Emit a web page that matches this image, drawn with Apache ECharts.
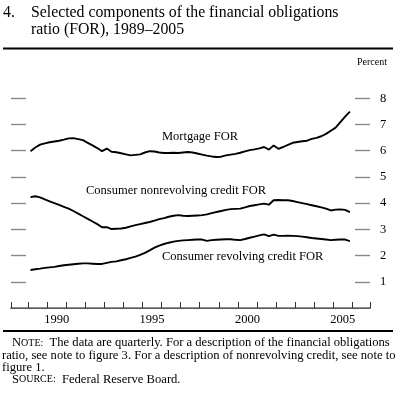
<!DOCTYPE html>
<html><head><meta charset="utf-8">
<script src="https://cdn.jsdelivr.net/npm/echarts@6/dist/echarts.min.js"></script>
<style>html,body{margin:0;padding:0;background:#fff}#c{width:400px;height:395px}</style>
</head><body><div id="c"></div><script>
// Quarterly data, 1989Q1 - 2005Q4 (percent)
const startYear = 1989;
const mortgage = [
  5.98, 6.12, 6.23, 6.28,
  6.32, 6.35, 6.38, 6.42,
  6.47, 6.48, 6.44, 6.40,
  6.30, 6.20, 6.10, 5.98,
  6.08, 5.96, 5.94, 5.90,
  5.86, 5.82, 5.84, 5.86,
  5.93, 5.98, 5.97, 5.93,
  5.91, 5.91, 5.92, 5.91,
  5.93, 5.95, 5.93, 5.89,
  5.85, 5.81, 5.78, 5.76,
  5.77, 5.82, 5.85, 5.88,
  5.92, 5.97, 6.02, 6.05,
  6.09, 6.14, 6.04, 6.20,
  6.07, 6.14, 6.22, 6.30,
  6.33, 6.36, 6.38, 6.45,
  6.49, 6.55, 6.64, 6.76,
  6.88, 7.09, 7.30, 7.49
];
const nonrevolving = [
  4.23, 4.26, 4.22, 4.14,
  4.07, 4.00, 3.93, 3.86,
  3.79, 3.70, 3.60, 3.50,
  3.40, 3.30, 3.20, 3.08,
  3.08, 3.01, 3.02, 3.03,
  3.06, 3.11, 3.16, 3.20,
  3.24, 3.28, 3.33, 3.39,
  3.43, 3.48, 3.52, 3.54,
  3.52, 3.51, 3.52, 3.53,
  3.54, 3.57, 3.62, 3.66,
  3.70, 3.74, 3.77, 3.78,
  3.79, 3.84, 3.89, 3.92,
  3.95, 3.98, 3.94, 4.11,
  4.12, 4.11, 4.11, 4.08,
  4.04, 4.00, 3.96, 3.92,
  3.88, 3.84, 3.79, 3.72,
  3.75, 3.76, 3.74, 3.66
];
const revolving = [
  1.45, 1.48, 1.50, 1.53,
  1.55, 1.57, 1.60, 1.63,
  1.65, 1.67, 1.69, 1.70,
  1.70, 1.69, 1.68, 1.68,
  1.72, 1.76, 1.78, 1.82,
  1.86, 1.91, 1.96, 2.03,
  2.10, 2.20, 2.30, 2.38,
  2.44, 2.49, 2.53, 2.56,
  2.58, 2.59, 2.60, 2.61,
  2.61, 2.56, 2.59, 2.60,
  2.61, 2.62, 2.62, 2.60,
  2.59, 2.63, 2.68, 2.72,
  2.77, 2.81, 2.74, 2.80,
  2.75, 2.75, 2.76, 2.75,
  2.74, 2.72, 2.70, 2.67,
  2.65, 2.63, 2.61, 2.59,
  2.60, 2.61, 2.61, 2.55
];
const yTicks = [1, 2, 3, 4, 5, 6, 7, 8];
const yearTicks = [1989,1990,1991,1992,1993,1994,1995,1996,1997,1998,1999,2000,2001,2002,2003,2004,2005,2006];
const yearLabels = [1990, 1995, 2000, 2005];
const seriesNames = ['Mortgage FOR', 'Consumer nonrevolving credit FOR', 'Consumer revolving credit FOR'];
const titleLines = ['Selected components of the financial obligations', 'ratio (FOR), 1989\u20132005'];

const FONT = '"Liberation Serif","Times New Roman",serif';
const X_MIN = 1988.1, X_MAX = 2006.93;

function toPairs(arr) { return arr.map((v, i) => [startYear + i / 4 + 0.125, v]); }

const chart = echarts.init(document.getElementById('c'), null, {renderer: 'canvas'});
const lineStyle = {color: '#000', width: 1.9};
const smallCaps = {
  big: {fontFamily: FONT, fontSize: 12.6, color: '#000'},
  sm: {fontFamily: FONT, fontSize: 10, color: '#000'}
};
chart.setOption({
  animation: false,
  backgroundColor: '#fff',
  grid: {left: 11, right: 30, top: 72, bottom: 87, containLabel: false},
  xAxis: [{
    type: 'value', min: X_MIN, max: X_MAX, position: 'bottom',
    axisLine: {show: true, lineStyle: {color: '#333', width: 1}},
    axisTick: {show: true, inside: true, length: 6, customValues: [X_MIN].concat(yearTicks, [X_MAX]), lineStyle: {color: '#333', width: 1}},
    axisLabel: {show: true, customValues: yearLabels.map(y => y + 0.5), formatter: v => String(Math.floor(v)),
      fontFamily: FONT, fontSize: 12.5, color: '#000', margin: 5},
    splitLine: {show: false}
  }, {
    type: 'value', min: X_MIN, max: X_MAX, position: 'top',
    axisLine: {show: true, lineStyle: {color: '#6a6a6a', width: 1.6}},
    axisTick: {show: false}, axisLabel: {show: false}, splitLine: {show: false}
  }],
  yAxis: [{
    type: 'value', min: 0, max: 9, position: 'left',
    axisLine: {show: false},
    axisTick: {show: true, inside: true, length: 15, customValues: yTicks, lineStyle: {color: '#8a8a8a', width: 1.4}},
    axisLabel: {show: false}, splitLine: {show: false}
  }, {
    type: 'value', min: 0, max: 9, position: 'right',
    axisLine: {show: false},
    axisTick: {show: true, inside: true, length: 15, customValues: yTicks, lineStyle: {color: '#8a8a8a', width: 1.4}},
    axisLabel: {show: true, customValues: yTicks, fontFamily: FONT, fontSize: 12.5, color: '#000', margin: 10},
    splitLine: {show: false}
  }],
  series: [
    {name: seriesNames[0], type: 'line', data: toPairs(mortgage), showSymbol: false, lineStyle: lineStyle, itemStyle: {color: '#000'}},
    {name: seriesNames[1], type: 'line', data: toPairs(nonrevolving), showSymbol: false, lineStyle: lineStyle, itemStyle: {color: '#000'}},
    {name: seriesNames[2], type: 'line', data: toPairs(revolving), showSymbol: false, lineStyle: lineStyle, itemStyle: {color: '#000'}}
  ],
  graphic: [
    {type: 'text', left: 3, top: 5, style: {text: '4.', font: '15.8px ' + FONT, fill: '#000'}},
    {type: 'text', left: 31, top: 5, style: {text: titleLines[0], font: '15.8px ' + FONT, fill: '#000'}},
    {type: 'text', left: 31, top: 22, style: {text: titleLines[1], font: '15.8px ' + FONT, fill: '#000'}},
    {type: 'rect', shape: {x: 3, y: 47.5, width: 390, height: 2}, style: {fill: '#000'}},
    {type: 'text', right: 13, top: 57, style: {text: 'Percent', font: '10px ' + FONT, fill: '#000'}},
    {type: 'text', x: 162, y: 137, style: {text: seriesNames[0], font: '12.5px ' + FONT, fill: '#000', verticalAlign: 'middle'}},
    {type: 'text', x: 86, y: 191, style: {text: seriesNames[1], font: '12.5px ' + FONT, fill: '#000', verticalAlign: 'middle'}},
    {type: 'text', x: 162, y: 257, style: {text: seriesNames[2], font: '12.5px ' + FONT, fill: '#000', verticalAlign: 'middle'}},
    {type: 'rect', shape: {x: 3, y: 330, width: 390, height: 2}, style: {fill: '#000'}},
    {type: 'text', x: 12, y: 343, style: {text: '{big|N}{sm|OTE:}{big|  The data are quarterly. For a description of the financial obligations}', rich: smallCaps, verticalAlign: 'middle'}},
    {type: 'text', x: 2, y: 355.5, style: {text: 'ratio, see note to figure 3. For a description of nonrevolving credit, see note to', font: '12.6px ' + FONT, fill: '#000', verticalAlign: 'middle'}},
    {type: 'text', x: 2, y: 367.5, style: {text: 'figure 1.', font: '12.6px ' + FONT, fill: '#000', verticalAlign: 'middle'}},
    {type: 'text', x: 12, y: 379.5, style: {text: '{big|S}{sm|OURCE:}{big|  Federal Reserve Board.}', rich: smallCaps, verticalAlign: 'middle'}}
  ]
});
</script></body></html>
